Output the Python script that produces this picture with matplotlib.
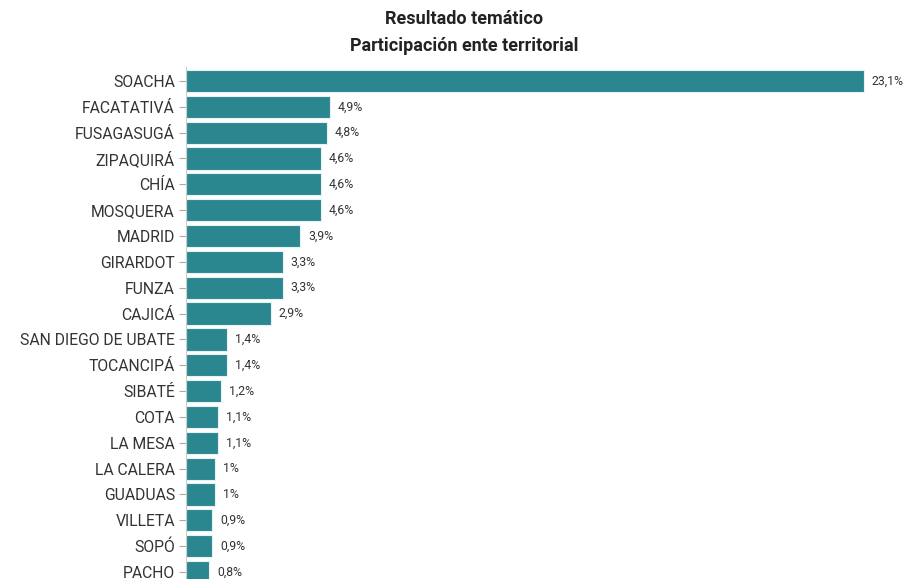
import matplotlib
matplotlib.use("Agg")
import matplotlib.pyplot as plt

plt.rcParams['font.family'] = ['Roboto', 'DejaVu Sans']

municipios = ["SOACHA", "FACATATIVÁ", "FUSAGASUGÁ", "ZIPAQUIRÁ", "CHÍA", "MOSQUERA",
              "MADRID", "GIRARDOT", "FUNZA", "CAJICÁ", "SAN DIEGO DE UBATE",
              "TOCANCIPÁ", "SIBATÉ", "COTA", "LA MESA", "LA CALERA", "GUADUAS",
              "VILLETA", "SOPÓ", "PACHO"]
participacion = [23.1, 4.9, 4.8, 4.6, 4.6, 4.6, 3.9, 3.3, 3.3, 2.9, 1.4,
                 1.4, 1.2, 1.1, 1.1, 1.0, 1.0, 0.9, 0.9, 0.8]

W, H = 906, 579
fig = plt.figure(figsize=(W / 100, H / 100), dpi=100)
ax = fig.add_axes([186 / W, 0, 1 - 186 / W, 1 - 67 / H])

bar_color = "#2b878f"
ypos = list(range(len(municipios)))
ax.barh(ypos, participacion, height=0.86, color=bar_color,
        edgecolor="#e6f2f2", linewidth=0.8)

ax.set_xlim(0, 24.53)
ax.set_ylim(19.27, -0.54)
ax.set_yticks(ypos)
ax.set_yticklabels(municipios, fontsize=11.3, color="#333333")
ax.tick_params(axis="y", length=5, width=0.8, color="#aaaaaa", pad=3)
ax.set_xticks([])

for side in ("top", "right", "bottom"):
    ax.spines[side].set_visible(False)
ax.spines["left"].set_color("#cccccc")
ax.spines["left"].set_linewidth(0.8)


def fmt(v):
    s = f"{v:.1f}".rstrip("0").rstrip(".")
    return s.replace(".", ",") + "%"


for y, v in zip(ypos, participacion):
    ax.annotate(fmt(v), (v, y), xytext=(5.5, 0), textcoords="offset points",
                va="center", ha="left", fontsize=8.8, color="#333333")

fig.text(464 / W, 1 - 19 / H, "Resultado temático", ha="center", va="center",
         fontsize=13, fontweight="bold", color="#222222")
fig.text(464 / W, 1 - 46 / H, "Participación ente territorial", ha="center",
         va="center", fontsize=13, fontweight="bold", color="#222222")

fig.savefig("out.png", dpi=100)
